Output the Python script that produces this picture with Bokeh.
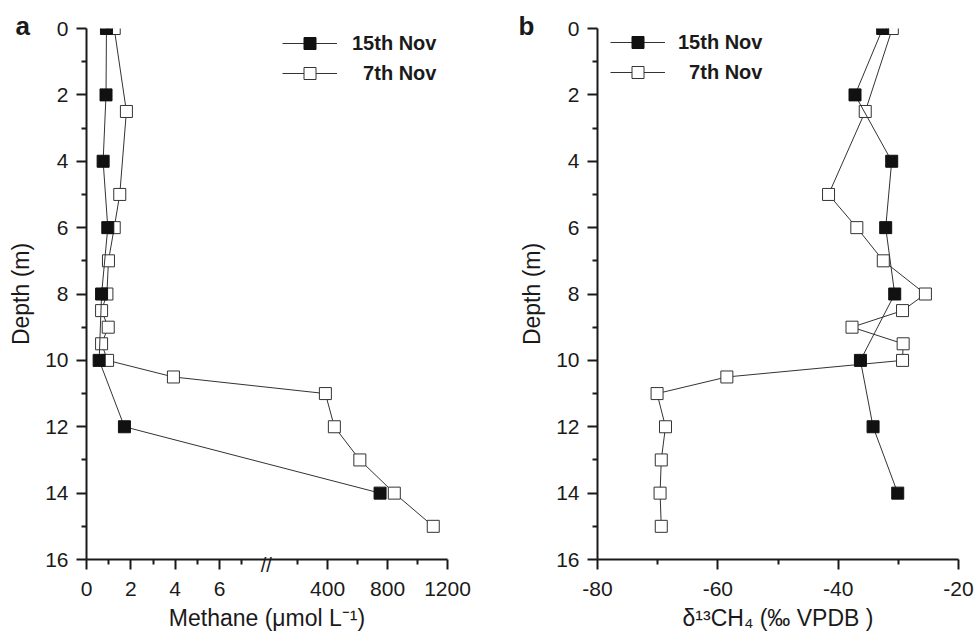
from math import pi
from bokeh.plotting import figure
from bokeh.layouts import row
from bokeh.models import Range1d, FixedTicker, Legend, LegendItem, LinearAxis
from bokeh.core.properties import value
from bokeh.embed import file_html
from bokeh.resources import INLINE

# ---------------- data ----------------
depth_15 = [0, 2, 4, 6, 8, 10, 12, 14]
ch4_15 = [0.9, 0.88, 0.75, 0.96, 0.68, 0.57, 1.71, 750]
d13c_15 = [-32.6, -37.2, -31.1, -32.1, -30.6, -36.3, -34.2, -30.1]

depth_7 = [0, 2.5, 5, 6, 7, 8, 8.5, 9, 9.5, 10, 10.5, 11, 12, 13, 14, 15]
ch4_7 = [1.25, 1.8, 1.5, 1.25, 0.99, 0.92, 0.68, 0.98, 0.68, 0.95, 3.92,
         385, 445, 615, 845, 1105]
d13c_7 = [-31.0, -35.5, -41.6, -36.9, -32.5, -25.5, -29.3, -37.7, -29.2,
          -29.3, -58.5, -70.1, -68.7, -69.4, -69.6, -69.4]

depth_ticks = [0, 2, 4, 6, 8, 10, 12, 14, 16]
depth_minor = [1, 3, 5, 7, 9, 11, 13, 15]
ch4_ticks = [0, 2, 4, 6, 400, 800, 1200]
ch4_minor = [1, 3, 5, 7, 200, 600, 1000]
d13c_ticks = [-80, -60, -40, -20]
d13c_minor = [-70, -50, -30]

labels = ["15th Nov", "\u00a0\u00a07th Nov"]

# ---------------- broken methane axis ----------------
BREAK_AT = 8.0        # values above this go to the upper segment
HIGH_ORIGIN = 8.17    # position of 0 for the upper segment
HIGH_SCALE = 1 / 148.0
BREAK_MARK = 8.11     # where the // is drawn


def brk(v):
    return round(v if v <= BREAK_AT else HIGH_ORIGIN + v * HIGH_SCALE, 5)


FONT = "Liberation Sans"
INK = "#1a1a1a"
LINE = "#333333"
H = 638
TOP = 28
FRAME_H = 531
BOTTOM = H - TOP - FRAME_H


def style(p, xlabel):
    p.outline_line_color = None
    p.grid.visible = False
    for ax in (p.xaxis[0], p.yaxis[0]):
        ax.axis_line_width = 2
        ax.axis_line_color = INK
        ax.major_tick_line_width = 2
        ax.minor_tick_line_width = 2
        ax.major_tick_line_color = INK
        ax.minor_tick_line_color = INK
        ax.major_tick_in = 0
        ax.major_tick_out = 10
        ax.minor_tick_in = 0
        ax.minor_tick_out = 5
        ax.major_label_text_font = FONT
        ax.major_label_text_font_size = "21px"
        ax.major_label_text_color = INK
        ax.axis_label_text_font = FONT
        ax.axis_label_text_font_size = "23px"
        ax.axis_label_text_font_style = "normal"
        ax.axis_label_text_color = INK
    p.xaxis.axis_label = xlabel
    p.yaxis.ticker = FixedTicker(ticks=depth_ticks, minor_ticks=depth_minor)
    p.yaxis.bounds = (0, 16)
    p.yaxis.major_label_standoff = 8
    p.xaxis.major_label_standoff = 12
    p.xaxis.axis_label_standoff = 6


def series(p, xs15, xs7):
    l7 = p.line(xs7, depth_7, line_color=LINE, line_width=1)
    s7 = p.scatter(xs7, depth_7, marker="square", size=12, fill_color="white",
                   line_color=LINE, line_width=1)
    l15 = p.line(xs15, depth_15, line_color=LINE, line_width=1)
    s15 = p.scatter(xs15, depth_15, marker="square", size=12, fill_color="#111111",
                    line_color="#111111", line_width=1)
    return [LegendItem(label=labels[0], renderers=[l15, s15]),
            LegendItem(label=labels[1], renderers=[l7, s7])]


def legend(items, loc, standoff):
    return Legend(items=items, location=loc, glyph_width=55, glyph_height=30,
                  label_height=30, spacing=0, padding=0, margin=0,
                  label_standoff=standoff, border_line_color=None,
                  background_fill_alpha=0,
                  label_text_font=FONT, label_text_font_style="bold",
                  label_text_font_size="20px", label_text_color=INK)


def side_fig(width, letter, letter_x, depth_x):
    # a narrow text-only strip; its frame covers the whole strip (page pixels)
    f = figure(width=width, height=H, x_range=Range1d(0, width),
               y_range=Range1d(H, 0),
               output_backend="svg", toolbar_location=None, min_border=0,
               x_axis_location=None, y_axis_location=None)
    try:
        f.frame_align = False
    except Exception:
        pass
    f.outline_line_color = None
    f.grid.visible = False
    f.text(x=[letter_x], y=[25.5], text=[letter], text_font=value(FONT),
           text_font_size=value("26px"), text_font_style=value("bold"),
           text_align=value("left"), text_baseline=value("middle"), text_color=INK)
    f.text(x=[depth_x], y=[TOP + FRAME_H / 2], text=["Depth (m)"], angle=pi / 2,
           text_font=value(FONT), text_font_size=value("23px"),
           text_align=value("center"), text_baseline=value("middle"), text_color=INK)
    return f


# ---------------- panel a ----------------
fa = side_fig(40, "a", 15, 20.5)

p1 = figure(width=440, height=H, x_range=Range1d(0, brk(1200)), y_range=Range1d(16, 0),
            output_backend="svg", toolbar_location=None,
            min_border_left=46, min_border_right=33, min_border_top=TOP,
            min_border_bottom=BOTTOM)
style(p1, "Methane (\u03bcmol L\u207b\u00b9)")
pos_major = [brk(v) for v in ch4_ticks]
p1.xaxis.ticker = FixedTicker(ticks=pos_major, minor_ticks=[brk(v) for v in ch4_minor])
p1.xaxis.major_label_overrides = {pos: str(v) for pos, v in zip(pos_major, ch4_ticks)}
items1 = series(p1, [brk(v) for v in ch4_15], [brk(v) for v in ch4_7])
p1.add_layout(legend(items1, (196, FRAME_H - 60), 15))

# axis-break mark "//": an extra unlabelled axis whose only tick label is pulled up onto the axis line
break_axis = LinearAxis(ticker=FixedTicker(ticks=[BREAK_MARK], minor_ticks=[]),
                        major_label_overrides={BREAK_MARK: "//"},
                        axis_line_color=None, major_tick_line_color=None,
                        minor_tick_line_color=None, major_tick_in=0, major_tick_out=0,
                        minor_tick_in=0, minor_tick_out=0, major_label_standoff=-80,
                        major_label_text_font=FONT, major_label_text_font_size="20px",
                        major_label_text_color=INK)
p1.add_layout(break_axis, "below")

# ---------------- panel b ----------------
fb = side_fig(72, "b", 38, 531 - 480)

p2 = figure(width=422, height=H, x_range=Range1d(-80, -20), y_range=Range1d(16, 0),
            output_backend="svg", toolbar_location=None,
            min_border_left=45, min_border_right=16, min_border_top=TOP,
            min_border_bottom=BOTTOM)
style(p2, "\u03b4\u00b9\u00b3CH\u2084 (\u2030 VPDB )")
p2.xaxis.ticker = FixedTicker(ticks=d13c_ticks, minor_ticks=d13c_minor)
p2.xaxis.major_label_overrides = {v: str(v) for v in d13c_ticks}
items2 = series(p2, d13c_15, d13c_7)
p2.add_layout(legend(items2, (13, FRAME_H - 59), 13))

layout = row(fa, p1, fb, p2)
open("out.html", "w").write(file_html(layout, INLINE))
